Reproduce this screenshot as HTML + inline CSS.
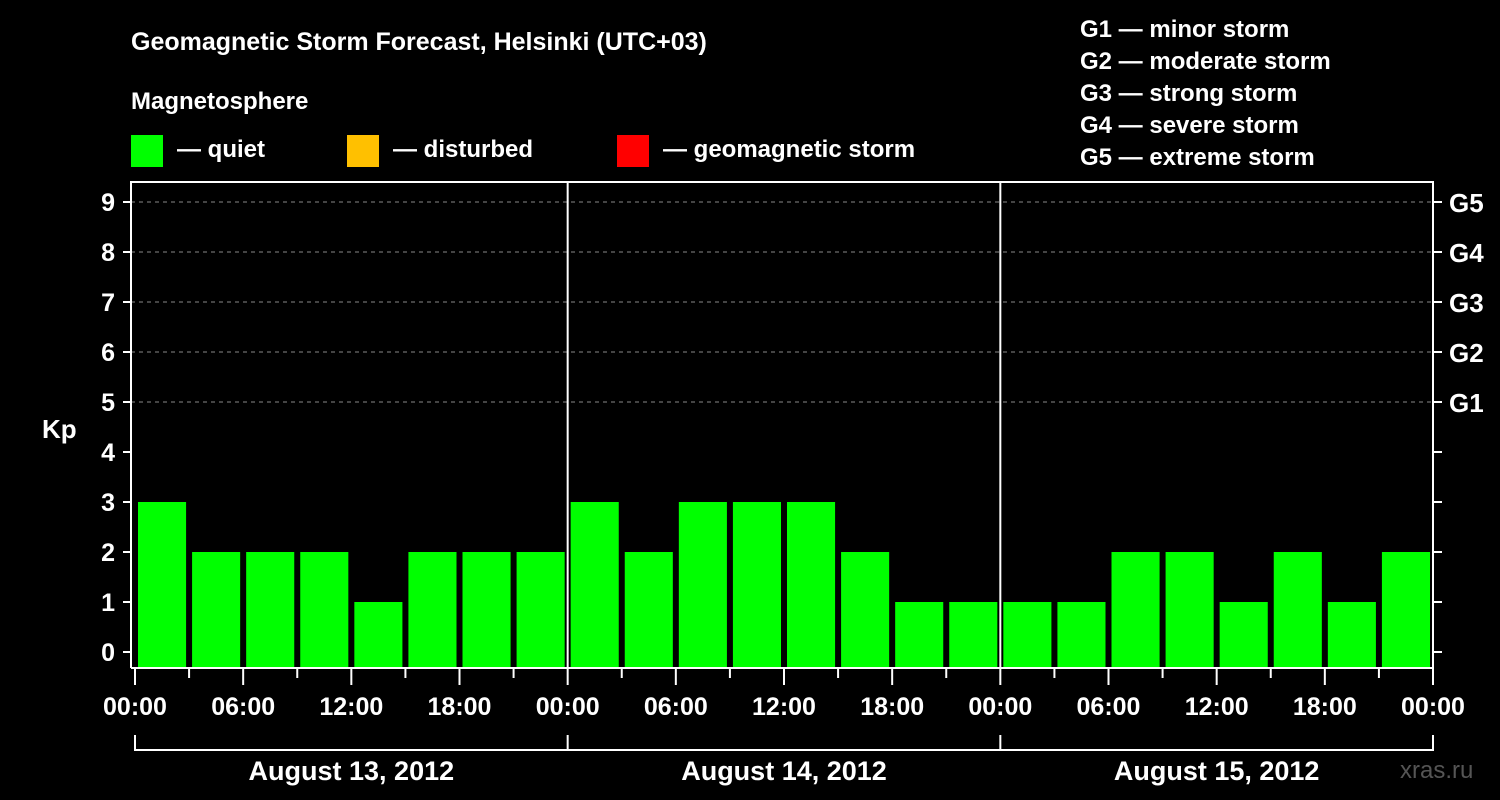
<!DOCTYPE html>
<html><head><meta charset="utf-8"><style>
body{margin:0;background:#000;}
svg{display:block;font-family:"Liberation Sans",sans-serif;font-weight:bold;}
</style></head><body>
<svg id="chart" width="1500" height="800" viewBox="0 0 1500 800">
<rect width="1500" height="800" fill="#000"/>
<text x="131" y="50" fill="#fff" font-size="25">Geomagnetic Storm Forecast, Helsinki (UTC+03)</text>
<text x="131" y="109" fill="#fff" font-size="24">Magnetosphere</text>
<g><rect x="131" y="135" width="32" height="32" fill="#00ff00"/><text x="177" y="157" fill="#fff" font-size="24">— quiet</text></g>
<g><rect x="347" y="135" width="32" height="32" fill="#ffc000"/><text x="393" y="157" fill="#fff" font-size="24">— disturbed</text></g>
<g><rect x="617" y="135" width="32" height="32" fill="#ff0000"/><text x="663" y="157" fill="#fff" font-size="24">— geomagnetic storm</text></g>
<g fill="#fff" font-size="24">
<text x="1080" y="37">G1 — minor storm</text>
<text x="1080" y="69">G2 — moderate storm</text>
<text x="1080" y="101">G3 — strong storm</text>
<text x="1080" y="133">G4 — severe storm</text>
<text x="1080" y="165">G5 — extreme storm</text>
</g>
<text x="42" y="438" fill="#fff" font-size="26">Kp</text>
<text x="1400" y="778" fill="#555" font-size="24" font-weight="normal">xras.ru</text>
<g id="grid"></g><g id="bars"></g><g id="axes"></g>
</svg>
<script>
const kpValues=[3,2,2,2,1,2,2,2, 3,2,3,3,3,2,1,1, 1,1,2,2,1,2,1,2];
const kpTicks=[0,1,2,3,4,5,6,7,8,9];
const gLabels=["G1","G2","G3","G4","G5"];
const gLevels=[5,6,7,8,9];
const timeLabels=["00:00","06:00","12:00","18:00"];
const dayLabels=["August 13, 2012","August 14, 2012","August 15, 2012"];
const NS="http://www.w3.org/2000/svg";
const X0=135,X1=1433,Y0=652,UNIT=50,BOT=668,TOP=182;
const slot=(X1-X0)/kpValues.length;
const xs=i=>X0+i*slot;
const ys=v=>Y0-v*UNIT;
function mk(t,a,p){const e=document.createElementNS(NS,t);for(const k in a)e.setAttribute(k,a[k]);p.appendChild(e);return e;}
const grid=document.getElementById('grid'),bars=document.getElementById('bars'),axes=document.getElementById('axes');
gLevels.forEach(v=>{const l=mk('line',{x1:131,x2:X1,y1:ys(v),y2:ys(v),stroke:'#888','stroke-dasharray':'4,4','stroke-width':1},grid);

});
kpValues.forEach((v,i)=>{const r=mk('rect',{x:xs(i)+3,y:ys(v),width:slot-6,height:BOT-ys(v),fill:v>=5?'#ff0000':(v>=4?'#ffc000':'#00ff00')},bars);

});
const f=mk('path',{d:`M131 ${BOT} V${TOP} H${X1} V${BOT} H131`,fill:'none',stroke:'#fff','stroke-width':2},axes);


[1,2].forEach(d=>{const l=mk('line',{x1:xs(d*8),x2:xs(d*8),y1:TOP,y2:BOT,stroke:'#fff','stroke-width':2},axes);

});
kpTicks.forEach(v=>{mk('line',{x1:123,x2:131,y1:ys(v),y2:ys(v),stroke:'#fff','stroke-width':2},axes);
mk('line',{x1:X1,x2:X1+9,y1:ys(v),y2:ys(v),stroke:'#fff','stroke-width':2},axes);
const t=mk('text',{x:115,y:ys(v)+9,fill:'#fff','font-size':25,'text-anchor':'end'},axes);t.textContent=v;

});
gLevels.forEach((v,i)=>{const t=mk('text',{x:1449,y:ys(v)+10,fill:'#fff','font-size':26},axes);t.textContent=gLabels[i];

});
for(let i=0;i<=24;i++){const x=xs(i);const major=i%2==0;
mk('line',{x1:x,x2:x,y1:BOT,y2:major?685:678,stroke:'#fff','stroke-width':2},axes);
if(major){const t=mk('text',{x:x,y:715,fill:'#fff','font-size':25,'text-anchor':'middle'},axes);t.textContent=i==24?timeLabels[0]:timeLabels[(i/2)%4];

}}
mk('path',{d:`M${X0} 735 V750 H${X1} V735 M${xs(8)} 735 V750 M${xs(16)} 735 V750`,fill:'none',stroke:'#fff','stroke-width':2},axes);
dayLabels.forEach((d,i)=>{const t=mk('text',{x:xs(i*8+4),y:780,fill:'#fff','font-size':27,'text-anchor':'middle'},axes);t.textContent=d;

});
</script>
</body></html>
